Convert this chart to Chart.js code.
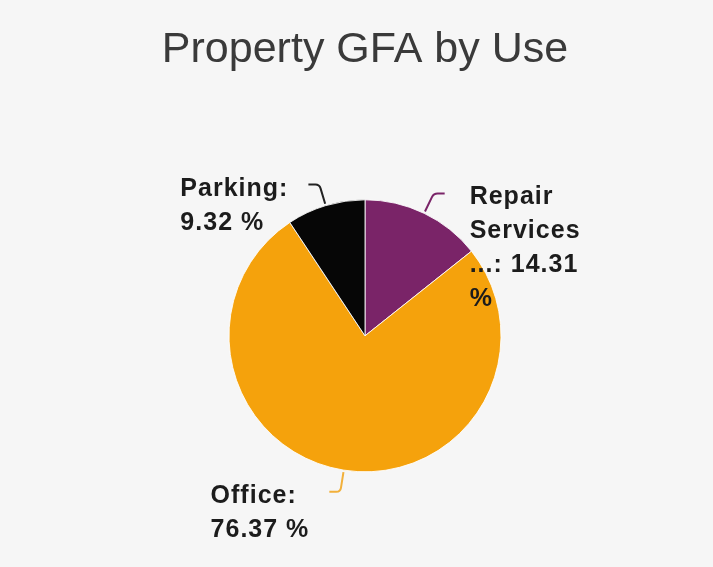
<!DOCTYPE html>
<html>
<head>
<meta charset="utf-8">
<title>Property GFA by Use</title>
<script src="https://cdn.jsdelivr.net/npm/chart.js@4/dist/chart.umd.min.js"></script>
<style>
  html, body { margin: 0; padding: 0; background: #f6f6f6; }
  #wrap { width: 713px; height: 567px; }
</style>
</head>
<body>
<div id="wrap"><canvas id="gfa"></canvas></div>
<script>
// data
const categories  = ['Repair Services', 'Office', 'Parking'];
const shortNames  = ['Repair Services ...', 'Office', 'Parking'];
const shares      = [14.31, 76.37, 9.32];
const sliceColors = ['#7a2468', '#f5a20c', '#060606'];
const lineColors  = ['#7a2468', '#f2b03a', '#222222'];

const LABEL_FONT = 'bold 25px "Liberation Sans", Arial, sans-serif';
const LINE_H = 34;
const WRAP_W = 120;

function wrapText(ctx, text, maxW) {
  const words = text.split(' ');
  const lines = [];
  let cur = '';
  words.forEach(w => {
    const test = cur ? cur + ' ' + w : w;
    if (cur && ctx.measureText(test).width > maxW) {
      lines.push(cur);
      cur = w;
    } else {
      cur = test;
    }
  });
  if (cur) lines.push(cur);
  return lines;
}

// outside labels with bent leader lines
const outsideLabels = {
  id: 'outsideLabels',
  afterDatasetsDraw(chart) {
    const ctx = chart.ctx;
    const meta = chart.getDatasetMeta(0);
    ctx.save();
    ctx.font = LABEL_FONT;
    ctx.letterSpacing = '1px';
    meta.data.forEach((arc, i) => {
      const { x, y, startAngle, endAngle, outerRadius } =
        arc.getProps(['x', 'y', 'startAngle', 'endAngle', 'outerRadius'], true);
      const mid = (startAngle + endAngle) / 2;
      const cos = Math.cos(mid), sin = Math.sin(mid);
      const dir = cos >= 0 ? 1 : -1;

      const p0 = { x: x + cos * (outerRadius + 2),  y: y + sin * (outerRadius + 2) };
      const p1 = { x: x + cos * (outerRadius + 22), y: y + sin * (outerRadius + 22) };
      const p2 = { x: p1.x + dir * 11, y: p1.y };

      ctx.strokeStyle = lineColors[i];
      ctx.lineWidth = 2;
      ctx.beginPath();
      ctx.moveTo(p0.x, p0.y);
      ctx.lineTo(p1.x - cos * 4, p1.y - sin * 4);
      ctx.quadraticCurveTo(p1.x, p1.y, p1.x + dir * 4, p1.y);
      ctx.lineTo(p2.x, p2.y);
      ctx.stroke();

      const text = shortNames[i] + ': ' + shares[i].toFixed(2) + ' %';
      const lines = wrapText(ctx, text, WRAP_W);
      const maxW = Math.max(...lines.map(l => ctx.measureText(l).width));
      const tx = dir > 0 ? p2.x + 25 : p2.x - 20 - maxW;
      const ty = p1.y + 11;

      ctx.fillStyle = '#1c1c1c';
      ctx.textAlign = 'left';
      ctx.textBaseline = 'alphabetic';
      lines.forEach((l, k) => ctx.fillText(l, tx, ty + k * LINE_H));
    });
    ctx.restore();
  }
};

new Chart(document.getElementById('gfa'), {
  type: 'pie',
  data: {
    labels: categories,
    datasets: [{
      data: shares,
      backgroundColor: sliceColors,
      borderColor: 'rgba(255,255,255,0.85)',
      borderWidth: 1,
      radius: 136,
    }],
  },
  options: {
    responsive: true,
    maintainAspectRatio: false,
    animation: false,
    layout: { padding: { left: 17, right: 0, top: 0, bottom: 0 } },
    plugins: {
      legend: { display: false },
      tooltip: { enabled: false },
      title: {
        display: true,
        text: 'Property GFA by Use',
        color: '#3a3a3a',
        font: { family: '"Liberation Sans", Arial, sans-serif', size: 43, weight: 'normal' },
        padding: { top: 24, bottom: 29 },
      },
    },
  },
  plugins: [outsideLabels],
});
</script>
</body>
</html>
